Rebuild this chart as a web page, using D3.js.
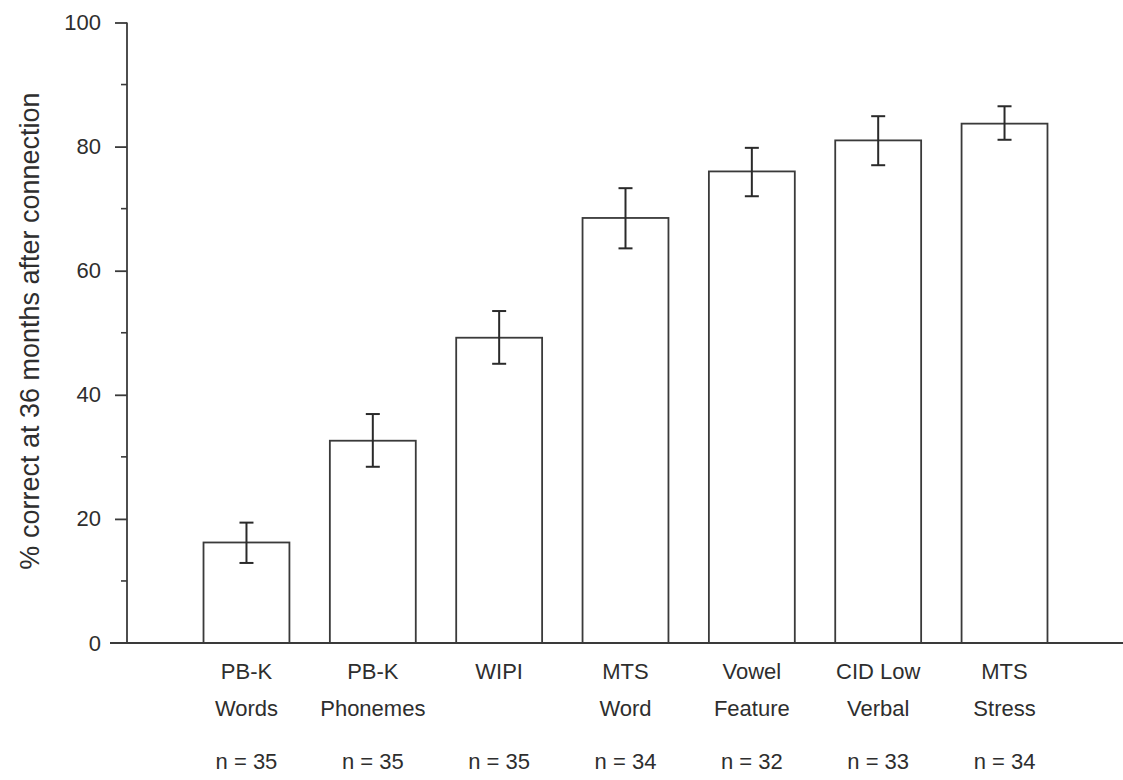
<!DOCTYPE html>
<html>
<head>
<meta charset="utf-8">
<script src="https://cdn.jsdelivr.net/npm/d3@7"></script>
<style>
  html, body { margin: 0; padding: 0; background: #fff; }
  svg { display: block; }
  text { font-family: "Liberation Sans", Arial, sans-serif; fill: #2e2e2e; }
</style>
</head>
<body>
<svg id="chart" width="1123" height="780"></svg>
<script>
// Speech perception tests, % correct at 36 months after connection
const testLine1 = ["PB-K", "PB-K", "WIPI", "MTS", "Vowel", "CID Low", "MTS"];
const testLine2 = ["Words", "Phonemes", "", "Word", "Feature", "Verbal", "Stress"];
const sampleSizes = [35, 35, 35, 34, 32, 33, 34];
const meanCorrect = [16.2, 32.6, 49.2, 68.5, 76.0, 81.0, 83.7];
const errLow = [12.9, 28.4, 45.0, 63.6, 72.0, 77.0, 81.1];
const errHigh = [19.4, 36.9, 53.5, 73.3, 79.8, 84.9, 86.5];
const majorTicks = [0, 20, 40, 60, 80, 100];
const minorTicks = [10, 30, 50, 70, 90];
const yTitle = "% correct at 36 months after connection";

const ink = "#3a3a3a";
const svg = d3.select("#chart");
const ids = d3.range(testLine1.length);

const x = d3.scaleBand()
  .domain(ids)
  .range([183.3, 1067.7])
  .paddingInner(0.32)
  .paddingOuter(0.16);

const y = d3.scaleLinear().domain([0, 100]).range([643, 22.5]);
const axisX = 127;

// bars
svg.append("g").selectAll("rect")
  .data(ids)
  .join("rect")
  .attr("x", i => x(i))
  .attr("y", i => y(meanCorrect[i]))
  .attr("width", x.bandwidth())
  .attr("height", i => y(0) - y(meanCorrect[i]))
  .attr("fill", "#fff")
  .attr("stroke", ink)
  .attr("stroke-width", 1.8);

// error bars
const eb = svg.append("g").attr("stroke", "#2a2a2a").attr("stroke-width", 2);
ids.forEach(i => {
  const cx = x(i) + x.bandwidth() / 2;
  eb.append("line").attr("x1", cx).attr("x2", cx)
    .attr("y1", y(errLow[i])).attr("y2", y(errHigh[i]));
  [errLow[i], errHigh[i]].forEach(v => {
    eb.append("line").attr("x1", cx - 7).attr("x2", cx + 7)
      .attr("y1", y(v)).attr("y2", y(v));
  });
});

// y axis
const yAxis = d3.axisLeft(y).tickValues(majorTicks).tickSize(12).tickPadding(14);
const gy = svg.append("g").attr("transform", `translate(${axisX},0)`).call(yAxis);
gy.select(".domain").attr("stroke", ink).attr("stroke-width", 1.8)
  .attr("d", `M0,${y(100)}V${y(0)}`);
gy.selectAll(".tick line").attr("stroke", ink).attr("stroke-width", 1.8);
gy.selectAll(".tick text")
  .style("font-size", "22px")
  .attr("fill", "#2e2e2e");
gy.selectAll(".tick").filter(d => d === 0).select("line").remove();

svg.append("g").attr("stroke", ink).attr("stroke-width", 1.6)
  .selectAll("line").data(minorTicks).join("line")
  .attr("x1", axisX - 6).attr("x2", axisX)
  .attr("y1", d => y(d)).attr("y2", d => y(d));

// baseline
svg.append("line")
  .attr("x1", 110).attr("x2", 1123)
  .attr("y1", y(0)).attr("y2", y(0))
  .attr("stroke", ink).attr("stroke-width", 1.8);

// category labels
const lab = svg.append("g").attr("text-anchor", "middle").style("font-size", "22px");
ids.forEach(i => {
  const cx = x(i) + x.bandwidth() / 2;
  lab.append("text").attr("x", cx).attr("y", 679).text(testLine1[i]);
  if (testLine2[i]) lab.append("text").attr("x", cx).attr("y", 716).text(testLine2[i]);
  lab.append("text").attr("x", cx).attr("y", 769).text(`n = ${sampleSizes[i]}`);
});

// y title
svg.append("text")
  .attr("transform", `translate(39,${(90 + 572) / 2}) rotate(-90)`)
  .attr("text-anchor", "middle")
  .style("font-size", "27px")
  .text(yTitle);
</script>
</body>
</html>
